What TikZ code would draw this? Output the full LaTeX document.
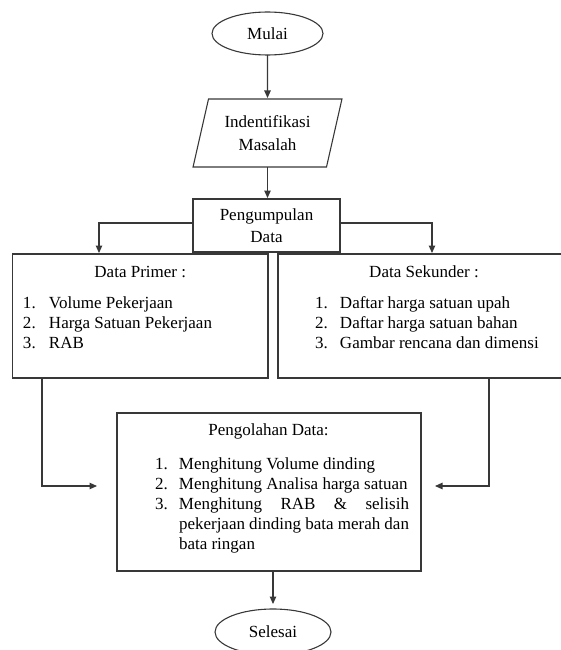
\documentclass[tikz,border=0pt]{standalone}
\usepackage{fontspec}
\setmainfont{Liberation Serif}
\usetikzlibrary{shapes.geometric,arrows.meta}
\newcommand{\nomor}[2]{\makebox[#1][l]{#2}}
\begin{document}
\begin{tikzpicture}[x=1pt,y=-1pt,
  every node/.style={font=\fontsize{17}{20}\selectfont, inner sep=0pt, outer sep=0pt, text=black},
  ln/.style={draw=black!78, line width=1.1pt},
  arr/.style={ln, -{Triangle[length=7.5pt,width=6.5pt]}, shorten >=1pt},
  term/.style={ln, ellipse},
  box/.style={ln, rectangle},
  io/.style={ln, trapezium, trapezium left angle=72, trapezium right angle=108, trapezium stretches=true}
]
\useasboundingbox (0,0) rectangle (561,650);
\clip (0,0) rectangle (561,650);

% main shapes
\node[term, minimum width=111pt, minimum height=43pt] (mulai) at (267.5,33.5) {Mulai};
\node[io, minimum width=149pt, minimum height=68pt, align=center, font=\fontsize{17}{22.5}\selectfont] (masalah) at (267.5,133) {Indentifikasi\\Masalah};
\node[box, minimum width=147pt, minimum height=53pt, align=center, font=\fontsize{17}{22}\selectfont] (kumpul) at (266.5,225.5) {Pengumpulan\\Data};
\node[box, minimum width=255.5pt, minimum height=124pt] (primer) at (140.25,316) {};
\node[box, minimum width=292pt, minimum height=124pt] (sekunder) at (424,316) {};
\node[box, minimum width=304pt, minimum height=158pt] (olah) at (269,492) {};
\node[term, minimum width=116pt, minimum height=46pt] (selesai) at (273,632) {Selesai};

% box texts
\node[anchor=base] (primerjudul) at (140.25,277) {Data Primer :};
\node[anchor=base west] (primerisi) at (23,308) {\parbox[t]{240pt}{\raggedright
  \nomor{26pt}{1.}Volume Pekerjaan\\
  \nomor{26pt}{2.}Harga Satuan Pekerjaan\\
  \nomor{26pt}{3.}RAB}};

\node[anchor=base] (sekunderjudul) at (424,277) {Data Sekunder :};
\node[anchor=base west] (sekunderisi) at (315,308) {\parbox[t]{240pt}{\raggedright
  \nomor{25pt}{1.}Daftar harga satuan upah\\
  \nomor{25pt}{2.}Daftar harga satuan bahan\\
  \nomor{25pt}{3.}Gambar rencana dan dimensi}};

\node[anchor=base] (olahjudul) at (268.5,435) {Pengolahan Data:};
\node[anchor=base west] (olahisi) at (155,469) {\parbox[t]{260pt}{\raggedright
  \nomor{24pt}{1.}Menghitung Volume dinding\\
  \nomor{24pt}{2.}Menghitung Analisa harga satuan\\
  \nomor{24pt}{3.}\makebox[230pt][s]{Menghitung RAB \& selisih}\\
  \hspace*{24pt}\makebox[230pt][s]{pekerjaan dinding bata merah dan}\\
  \hspace*{24pt}bata ringan}};

% connectors
\draw[arr] (mulai.south) -- (masalah.north);
\draw[arr] (masalah.south) -- (masalah.south |- kumpul.north);
\draw[arr] ([yshift=2.5pt]kumpul.west) -| ([xshift=86.5pt]primer.north west);
\draw[arr] ([yshift=2.5pt]kumpul.east) -| ([xshift=154pt]sekunder.north west);
\draw[arr] ([xshift=29.5pt]primer.south west) |- ([xshift=-19pt,yshift=6pt]olah.west);
\draw[arr] ([xshift=211pt]sekunder.south west) |- ([xshift=13pt,yshift=6pt]olah.east);
\draw[arr, shorten >=5pt] (olah.south -| selesai.north) -- (selesai.north);
\end{tikzpicture}
\end{document}
